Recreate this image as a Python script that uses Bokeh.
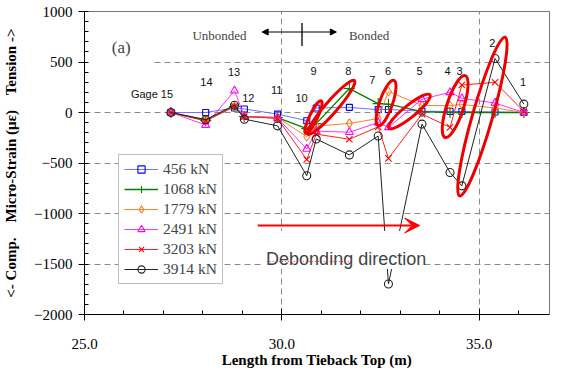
from bokeh.plotting import figure
from bokeh.models import (Range1d, FixedTicker, Legend, LegendItem, Label, BoxAnnotation,
                          Arrow, NormalHead, VeeHead, NumeralTickFormatter, ColumnDataSource)
from bokeh.embed import file_html
from bokeh.resources import INLINE
from bokeh.core.properties import value

# ---------------- data ----------------
gages = ["Gage 15", "14", "13", "12", "11", "10", "9", "8", "7", "6", "5", "4", "3", "2", "1"]
gage_x = [27.19, 28.07, 28.80, 29.05, 29.89, 30.63, 30.87, 31.71, 32.44, 32.70, 33.55, 34.26, 34.56, 35.40, 36.13]
loads = ["456 kN", "1068 kN", "1779 kN", "2491 kN", "3203 kN", "3914 kN"]
strain_456 = [0, 0, 45, 35, -16, -81, 45, 51, 28, 30, 13, 10, 10, 5, 0]
strain_1068 = [0, -80, 60, -40, -50, -160, -110, 237, 88, 82, 8, 0, 0, 0, 0]
strain_1779 = [0, -70, 60, -40, -50, -240, -135, -108, -60, 208, 70, 67, 80, 45, 0]
strain_2491 = [0, -124, 216, -40, -55, -361, -185, -195, -100, -147, 132, 200, 140, 94, 0]
strain_3203 = [0, -80, 60, -40, -59, -465, -214, -265, -142, -454, -16, -147, 272, 299, 10]
strain_3914 = [0, -71, 72, -66, -132, -626, -262, -420, -233, -1698, -115, -594, -726, 535, 83]

x_ticks = [25, 30, 35]
x_minor = [26, 27, 28, 29, 31, 32, 33, 34, 36]
y_ticks = [-2000, -1500, -1000, -500, 0, 500, 1000]

# gage label positions (annotation)
gl_x = [26.71, 28.09, 28.79, 29.15, 29.87, 30.50, 30.80, 31.68, 32.29, 32.69, 33.49, 34.20, 34.50, 35.33, 36.11]
gl_y = [183, 302, 401, 144, 223, 144, 411, 411, 322, 411, 411, 411, 411, 688, 302]

# highlight ellipses (annotation): centre x, centre y, major px, minor px, angle deg
el_x = [30.80, 31.25, 32.64, 33.23, 34.39, 35.08]
el_y = [-45, 51, 94, 10, 59, -40]
el_w = [36, 71, 48, 53, 65, 165]
el_h = [8, 12, 13, 12, 17, 20]
el_a = [64, 49, 71, 39, 72, 74]

SERIF = "Liberation Serif"
SANS = "Liberation Sans"

p = figure(width=550, height=370, output_backend="svg", toolbar_location=None,
           x_range=Range1d(25, 36.78), y_range=Range1d(-2000, 1000),
           min_border_left=80, min_border_right=1, min_border_top=11, min_border_bottom=54)
p.background_fill_color = "white"
p.outline_line_color = "#777777"
p.outline_line_width = 1

# axes
p.xaxis.ticker = FixedTicker(ticks=x_ticks, minor_ticks=x_minor)
p.yaxis.ticker = FixedTicker(ticks=y_ticks, minor_ticks=list(range(-2000, 1001, 100)))
p.xaxis.formatter = NumeralTickFormatter(format="0.0")
for ax in (p.xaxis[0], p.yaxis[0]):
    ax.axis_line_color = "black"
    ax.major_tick_line_color = "black"
    ax.minor_tick_line_color = "black"
    ax.major_label_text_font = SERIF
    ax.major_label_text_font_size = "15px"
    ax.major_label_text_color = "black"
    ax.axis_label_text_font = SERIF
    ax.axis_label_text_font_style = "bold"
    ax.axis_label_text_font_size = "15px"
    ax.axis_label_text_color = "black"
p.xaxis.major_tick_in = 6
p.xaxis.major_tick_out = 6
p.xaxis.minor_tick_in = 4
p.xaxis.minor_tick_out = 0
p.xaxis.major_label_standoff = 18
p.xaxis.axis_label_standoff = 0
p.yaxis.major_tick_in = 2
p.yaxis.major_tick_out = 6
p.yaxis.minor_tick_in = 4
p.yaxis.minor_tick_out = 0
p.yaxis.major_label_standoff = 6
p.yaxis.axis_label_standoff = 12
p.xaxis.axis_label = "Length from Tieback Top (m)"
p.yaxis.axis_label = "<- Comp.\u00a0\u00a0\u00a0 Micro-Strain (\u03bc\u03b5)\u00a0\u00a0\u00a0 Tension ->"

# grid
for g in (p.xgrid[0], p.ygrid[0]):
    g.grid_line_color = "#8a8a8a"
    g.grid_line_dash = "6 4"
    g.grid_line_width = 1
p.xgrid.ticker = FixedTicker(ticks=x_ticks)
p.ygrid.ticker = FixedTicker(ticks=y_ticks)

# white box behind "(a)"
p.add_layout(BoxAnnotation(left=25.03, right=26.74, top=850, bottom=450, fill_color="white",
                           fill_alpha=1, line_alpha=0, level="underlay"))

# ---------------- series ----------------
series = [
    (strain_456, "#7070ff", "#0000ff", "square", 6, 1.0),
    (strain_1068, "#008000", "#008000", "cross", 11, 1.3),
    (strain_1779, "#ff7f27", "#ff7f27", "diamond", 9, 1.0),
    (strain_2491, "#ff33ff", "#ff00ff", "triangle", 8, 1.0),
    (strain_3203, "#ff2020", "#ff0000", "x", 9, 1.0),
    (strain_3914, "#222222", "#222222", "circle", 8, 1.0),
]
items = []
for (vals, lc, mc, mk, sz, lw), name in zip(series, loads):
    src = ColumnDataSource(dict(x=gage_x, y=vals))
    r1 = p.line("x", "y", source=src, line_color=lc, line_width=lw)
    r2 = p.scatter("x", "y", source=src, marker=mk, size=sz, line_color=mc,
                   fill_color=None, line_width=1.1)
    items.append(LegendItem(label=name, renderers=[r1, r2]))

legend = Legend(items=items, location=(34, 30), orientation="vertical")
legend.label_text_font = SERIF
legend.label_text_font_size = "15.5px"
legend.label_height = 18
legend.glyph_height = 18
legend.glyph_width = 34
legend.spacing = 2
legend.padding = 5
legend.margin = 0
legend.label_standoff = 5
legend.border_line_color = "#808080"
legend.background_fill_alpha = 1
p.add_layout(legend, "center")

# highlight ellipses
p.ellipse(el_x, el_y, width=el_w, height=el_h, angle=el_a, width_units="screen",
          height_units="screen", angle_units="deg", fill_alpha=0, line_color="#ee0000", line_width=3)

# gage labels
p.text(gl_x, gl_y, text=gages, text_font=value(SANS), text_font_size="11px",
       text_align="center", text_baseline="middle", text_color="#111111")

# top annotations
p.add_layout(Label(x=25.93, y=648, text="(a)", text_font=SERIF, text_font_size="17px",
                   text_align="center", text_baseline="middle"))
p.add_layout(Label(x=28.42, y=767, text="Unbonded", text_font=SERIF, text_font_size="13px",
                   text_align="center", text_baseline="middle"))
p.add_layout(Label(x=32.21, y=767, text="Bonded", text_font=SERIF, text_font_size="13px",
                   text_align="center", text_baseline="middle"))
p.add_layout(Arrow(start=NormalHead(size=6, fill_color="black", line_color="black"),
                   end=NormalHead(size=6, fill_color="black", line_color="black"),
                   x_start=29.50, y_start=797, x_end=31.38, y_end=797, line_width=1))
p.add_layout(Arrow(end=None, x_start=30.51, y_start=886, x_end=30.51, y_end=658, line_width=1.3))

# debonding direction
p.add_layout(BoxAnnotation(left=29.52, right=33.52, top=-1173, bottom=-1550, fill_color="white",
                           fill_alpha=1, line_alpha=0))
p.add_layout(Arrow(end=VeeHead(size=15, fill_color="red", line_color="red"),
                   x_start=29.39, y_start=-1119, x_end=33.49, y_end=-1119,
                   line_color="red", line_width=2))
p.add_layout(Label(x=29.60, y=-1450, text="Debonding direction", text_font=SANS,
                   text_font_size="18px", text_align="left", text_baseline="alphabetic"))
p.add_layout(Arrow(end=None, x_start=29.62, y_start=-1475, x_end=31.70, y_end=-1475,
                   line_color="#e04040", line_width=1, line_dash="1 2"))

open("out.html", "w").write(file_html(p, INLINE))
